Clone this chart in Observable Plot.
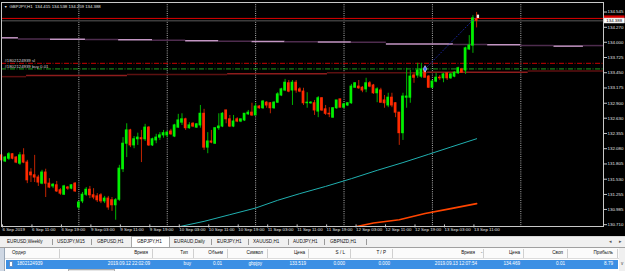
<!DOCTYPE html>
<html><head><meta charset="utf-8">
<script src="https://cdn.jsdelivr.net/npm/d3@7"></script>
<script src="https://cdn.jsdelivr.net/npm/@observablehq/plot@0.6"></script>
<style>
body{margin:0;width:625px;height:271px;overflow:hidden;background:#fff;font-family:"Liberation Sans",Arial,sans-serif;position:relative;}
#chart{position:absolute;left:0;top:0;width:625px;height:237px;background:#000;}
.a{position:absolute;white-space:nowrap;line-height:1;}
#tabs{position:absolute;left:0;top:236px;width:625px;height:11px;background:#f0f0f0;border-top:1px solid #d8d8d8;box-sizing:border-box;}
#grid{position:absolute;left:0;top:247px;width:625px;height:24px;background:#fff;border-top:1px solid #a0a0a0;box-sizing:border-box;}
</style></head><body>
<div id="chart"></div>
<div id="tabs"></div>
<div id="grid"></div>
<script>
// ---- data: GBPJPY H1 candles (bar index 0 = 6 Sep 2019 03:00) ----
const O = [
131.96,131.85,131.90,131.98,131.92,131.81,131.96,131.83,131.65,131.60,
131.56,131.45,131.65,131.45,131.40,131.42,131.33,131.25,131.38,131.36,
131.45,131.02,131.13,131.25,131.34,131.24,131.22,131.24,131.13,131.18,
131.15,131.06,131.16,131.71,132.17,132.41,132.14,132.25,132.27,132.25,
132.46,132.14,132.23,132.28,132.32,132.32,132.39,132.30,132.46,132.55,
132.61,132.45,132.53,132.46,132.50,132.71,132.10,132.21,132.17,132.45,
132.48,132.77,132.61,132.48,132.61,132.57,132.59,132.70,132.73,132.68,
132.84,132.81,132.91,132.90,132.81,132.91,133.04,133.13,133.26,133.13,
133.27,133.15,133.11,132.90,132.90,132.90,132.75,132.99,132.79,132.71,
132.64,132.81,132.97,132.82,132.86,132.90,133.18,133.20,133.18,133.15,
133.26,133.22,133.08,133.13,132.95,132.86,133.00,132.90,132.73,132.36,
133.00,133.00,133.40,133.40,133.38,133.49,133.38,133.18,133.29,133.36,
133.35,133.44,133.35,133.38,133.44,133.51,133.49,133.87,133.94,134.415];
const Hi = [
131.98,131.94,132.01,131.99,131.94,132.01,132.08,131.87,131.72,131.96,
131.60,131.69,131.71,131.54,131.45,131.49,131.36,131.42,131.40,131.43,
131.47,131.13,131.29,131.38,131.40,131.36,131.27,131.27,131.22,131.22,
131.20,131.18,131.78,132.28,132.53,132.43,132.30,132.36,132.41,132.52,
132.48,132.27,132.34,132.37,132.41,132.39,132.43,132.52,132.70,132.71,
132.63,132.55,132.55,132.53,132.86,132.79,132.37,132.41,132.45,132.71,
132.73,132.77,132.68,132.68,132.64,132.61,132.71,132.77,132.90,132.90,
132.86,132.95,132.93,132.91,132.93,133.09,133.17,133.33,133.31,133.31,
133.31,133.18,133.17,133.09,132.93,132.95,133.02,133.00,132.86,132.82,
132.82,132.95,132.97,132.90,132.91,133.24,133.27,133.31,133.20,133.35,
133.29,133.24,133.18,133.17,133.04,133.08,133.08,132.91,132.73,133.08,
133.53,133.49,133.45,133.62,133.62,133.53,133.40,133.31,133.44,133.40,
133.44,133.45,133.44,133.47,133.55,133.53,133.91,134.12,134.48,134.538];
const Lo = [
131.80,131.83,131.87,131.88,131.81,131.78,131.81,131.45,131.47,131.47,
131.40,131.43,131.20,131.36,131.36,131.29,131.24,131.24,131.33,131.34,
131.29,130.98,131.09,131.22,131.18,131.16,131.11,131.09,131.09,130.97,
130.95,130.79,131.13,131.65,131.92,132.10,132.08,132.14,131.83,132.21,
132.12,132.12,132.17,132.23,132.27,132.28,132.32,132.28,132.45,132.50,
132.41,132.43,132.46,132.45,132.45,132.05,131.99,132.17,132.16,132.41,
132.46,132.53,132.46,132.46,132.55,132.55,132.57,132.68,132.66,132.68,
132.79,132.79,132.81,132.71,132.79,132.90,133.02,133.11,133.09,132.86,
133.08,133.09,132.86,132.81,132.88,132.68,132.64,132.75,132.68,132.64,
132.63,132.79,132.82,132.81,132.84,132.88,133.17,133.15,133.09,133.09,
133.18,133.06,132.91,132.90,132.81,132.82,132.82,132.64,132.14,132.23,
132.81,132.90,133.26,133.35,133.35,133.36,133.17,133.17,133.27,133.31,
133.27,133.31,133.33,133.36,133.42,133.45,133.42,133.85,133.80,134.259];
const Cl = [
131.87,131.92,131.98,131.90,131.83,131.96,131.83,131.51,131.60,131.56,
131.47,131.65,131.45,131.38,131.43,131.31,131.27,131.40,131.36,131.42,
131.31,131.11,131.25,131.34,131.24,131.20,131.15,131.13,131.18,131.02,
131.06,131.15,131.72,132.17,132.41,132.14,132.25,132.28,132.25,132.46,
132.14,132.25,132.28,132.32,132.36,132.37,132.34,132.50,132.59,132.61,
132.45,132.50,132.48,132.52,132.71,132.10,132.21,132.19,132.45,132.48,
132.71,132.61,132.48,132.57,132.57,132.61,132.71,132.73,132.68,132.84,
132.81,132.93,132.86,132.81,132.91,133.06,133.15,133.27,133.11,133.27,
133.13,133.11,132.90,132.91,132.91,132.77,132.99,132.77,132.71,132.70,
132.81,132.95,132.82,132.88,132.90,133.20,133.26,133.17,133.13,133.26,
133.20,133.08,133.15,132.91,132.90,133.00,132.86,132.73,132.36,133.02,
133.02,133.38,133.36,133.49,133.51,133.36,133.18,133.29,133.36,133.35,
133.42,133.35,133.42,133.45,133.53,133.45,133.89,133.94,134.43,134.388];

const xLabels = ["6 Sep 2019","6 Sep 11:00","6 Sep 19:00","9 Sep 03:00","9 Sep 11:00","9 Sep 19:00",
  "10 Sep 03:00","10 Sep 11:00","10 Sep 19:00","11 Sep 03:00","11 Sep 11:00","11 Sep 19:00",
  "12 Sep 03:00","12 Sep 11:00","12 Sep 19:00","13 Sep 03:00","13 Sep 11:00"];
const xLabelBars = [0,8,16,24,32,40,48,56,64,72,80,88,96,104,112,120,128];
const daySepBars = [21,45,69,93,117,141];
const priceTicks = [134.545,134.270,134.000,133.725,133.450,133.175,132.900,132.630,132.355,132.080,131.805,131.530,131.255,130.985,130.710];

// stepped higher-timeframe averages
const lavFrom  = [-1,4.6,13.3,22.8,31.8,41,50,59,68,77,86,95,104.5,122.7,132,141,150,158];
const lavValue = [134.08,134.06,134.055,134.05,134.044,134.037,134.026,134.02,134.015,134.01,134.005,134.0,133.97,133.96,133.954,133.94,133.93,133.94];
const lavShade = [0,1,0,1,0,1,0,1,0,1,0,1,0,1,0,1,0,1];
const redFrom  = [-1,6.8,34.2,61.4,88.5,115.7,143];
const redValue = [133.38,133.40,133.42,133.43,133.45,133.46,133.48];
const redShade = [1,0,1,0,1,0,1];

// moving averages
const cyanBars = [46,48,55,62,69,75,81,88,95,102,109,116,122,129];
const cyanVals = [130.62,130.67,130.77,130.89,131.01,131.15,131.27,131.40,131.54,131.69,131.83,131.98,132.11,132.26];
const orangeBars = [94,96,101,108,115,122,129];
const orangeVals = [130.63,130.67,130.74,130.80,130.91,131.00,131.09];

// order / price lines
const bidPrice = 134.388, askPrice = 134.43;
const orderLineTexts = ["#1802124939 sl","#1802124939 buy 0.01"];
const orderLinePrices = [133.62, 133.519];
const tradeOpen = {bar:115, price:133.519};
const tradeClose = {bar:129, price:134.469};
const titleText = "GBPJPY,H1  134.415 134.538 134.259 134.388";

// bottom terminal
const tabNames = ["EURUSD,Weekly","USDJPY,M15","GBPUSD,H1","GBPJPY,H1","EURAUD,Daily","EURJPY,H1","XAUUSD,H1","AUDJPY,H1","GBPNZD,H1"];
const colHeads = ["Ордер","Время","Тип","Объем","Символ","Цена","S / L","T / P","Время","Цена","Своп","Прибыль"];
const rowVals  = ["1802124939","2019.09.12 22:02:09","buy","0.01","gbpjpy","133.519","0.000","0.000","2019.09.13 12:07:54","134.469","0.01","8.79"];

// ---- build ----
const bars = O.map((o,i)=>({i, o, h:Hi[i], l:Lo[i], c:Cl[i]}));
const nextOr = (arr,k,end)=> k+1<arr.length ? arr[k+1] : end;
const lavSegs = lavFrom.map((a,k)=>({a, b:nextOr(lavFrom,k,164), v:lavValue[k], s:lavShade[k]}));
const redSegs = redFrom.map((a,k)=>({a, b:nextOr(redFrom,k,164), v:redValue[k], s:redShade[k]}));
const cyan = cyanBars.map((b,k)=>({b, v:cyanVals[k]}));
const orange = orangeBars.map((b,k)=>({b, v:orangeVals[k]}));
const BULL="#00f000", BEAR="#ff2a00", BULLW="#00b400", BEARW="#c02400";
const AX0 = 163.7, AX1 = 169.3; // price-label column (beyond right edge of bars)

const chart = Plot.plot({
  width:625, height:237,
  marginLeft:1, marginRight:22, marginTop:2, marginBottom:11,
  style:{background:"#000", color:"#e6e6e6", fontFamily:"Liberation Sans, Arial, sans-serif", fontSize:"4.4px", overflow:"visible"},
  x:{domain:[0,163.45], axis:null},
  y:{domain:[130.677,134.717], axis:null},
  color:{type:"identity"},
  marks:[
    Plot.ruleX(daySepBars,{x:d=>d, stroke:"#b0b0b0", strokeDasharray:"1,1.2", strokeWidth:1}),
    Plot.ruleY(lavSegs,{y:"v", x1:"a", x2:"b", stroke:d=>d.s?"#4e2c4e":"#c496c4", strokeWidth:1.5, clip:true}),
    Plot.ruleY(redSegs,{y:"v", x1:"a", x2:"b", stroke:d=>d.s?"#5c1010":"#8e1c1c", strokeWidth:1.5, clip:true}),
    Plot.ruleY([orderLinePrices[0]],{stroke:"#c80000", strokeDasharray:"5,1.5,1,1.5", strokeWidth:1}),
    Plot.ruleY([orderLinePrices[1]],{stroke:"#1ea01e", strokeDasharray:"5,1.5,1,1.5", strokeWidth:1}),
    Plot.ruleY([bidPrice],{stroke:"#3c3c3c", strokeWidth:1.6}),
    Plot.ruleY([askPrice],{stroke:"#dc0000", strokeWidth:1}),
    Plot.text(orderLinePrices,{x:0.8, y:d=>d, text:(d,i)=>orderLineTexts[i], textAnchor:"start", dy:-2.6, fill:"#d8d8d8", fontSize:4.3}),
    Plot.line(cyan,{x:"b", y:"v", stroke:"#20b0b0", strokeWidth:1, clip:true}),
    Plot.line(orange,{x:"b", y:"v", stroke:"#ff4500", strokeWidth:1.6, clip:true}),
    Plot.ruleX(bars,{x:"i", y1:"l", y2:"h", stroke:d=>d.c>=d.o?BULLW:BEARW, strokeWidth:1}),
    Plot.rect(bars,{x1:d=>d.i-0.37, x2:d=>d.i+0.37, y1:"o", y2:"c", fill:d=>d.c>=d.o?BULL:BEAR, insetTop:-0.5, insetBottom:-0.5}),
    Plot.link([0],{x1:tradeOpen.bar, y1:tradeOpen.price, x2:tradeClose.bar, y2:tradeClose.price, stroke:"#2230d0", strokeDasharray:"1,1.5", strokeWidth:1}),
    Plot.dot([0],{x:tradeOpen.bar, y:tradeOpen.price, symbol:"diamond", r:2, fill:"#5070ff", stroke:"#ffffff", strokeWidth:0.5}),
    Plot.rect([0],{x1:tradeClose.bar+0.2, x2:tradeClose.bar+0.8, y1:tradeClose.price-0.04, y2:tradeClose.price+0.02, fill:"#f4f0e0"}),
    Plot.frame({stroke:"#c8c8c8", strokeWidth:1}),
    Plot.axisY(priceTicks,{anchor:"right", tickSize:3, tickPadding:1, tickFormat:d=>d.toFixed(3), fontSize:4.4, fill:"#e6e6e6", stroke:"#c8c8c8"}),
    Plot.axisX(xLabelBars,{anchor:"bottom", tickSize:3, tickPadding:0, dy:-1.6, dx:1, textAnchor:"start", tickFormat:d=>xLabels[xLabelBars.indexOf(d)], fontSize:4.4, fill:"#e6e6e6", stroke:"#c8c8c8"}),
    Plot.rect([0],{x1:AX0, x2:AX1, y1:askPrice-0.05, y2:askPrice+0.045, fill:"#dc0000"}),
    Plot.rect([0],{x1:AX0, x2:AX1, y1:bidPrice-0.05, y2:bidPrice+0.04, fill:"#ffffff", stroke:"#c8c8c8", strokeWidth:0.5}),
    Plot.text([bidPrice],{x:AX0+0.5, y:d=>d, text:d=>d.toFixed(3), textAnchor:"start", fill:"#000", fontSize:4.4}),
    Plot.text([titleText],{frameAnchor:"top-left", dx:8, dy:2.5, lineAnchor:"top", text:d=>d, fill:"#e6e6e6", fontSize:4.3}),
    Plot.text(["▼"],{frameAnchor:"top-left", dx:2.5, dy:2.8, lineAnchor:"top", text:d=>d, fill:"#e6e6e6", fontSize:3.5})
  ]
});
document.getElementById("chart").appendChild(chart);

// ---- terminal (tabs + trade table) ----
const F = "4.6px";
function put(parent, txt, left, top, opts={}){
  const d=document.createElement("div"); d.className="a"; d.textContent=txt;
  d.style.left=left+"px"; d.style.top=top+"px"; d.style.fontSize=opts.size||F;
  if(opts.color) d.style.color=opts.color;
  if(opts.bold) d.style.fontWeight="bold";
  if(opts.right){ d.style.left="auto"; d.style.right=(625-left)+"px"; }
  parent.appendChild(d); return d;
}
function box(parent, l,t,w,h,css){const d=document.createElement("div");d.className="a";Object.assign(d.style,{left:l+"px",top:t+"px",width:w+"px",height:h+"px"},css);parent.appendChild(d);return d;}

const tabs=document.getElementById("tabs");
const tabLeft=[7,57,97,137,174,217,253,293,330];
const tabSeps=[52,91,211,248,288,324,366];
box(tabs,131,-1,39,11,{background:"#fff",border:"1px solid #a8a8a8",borderBottom:"none",boxSizing:"border-box"});
tabNames.forEach((t,k)=>put(tabs,t,tabLeft[k],2.6,{color:"#111"}));
tabSeps.forEach(x=>box(tabs,x,2,1,6,{background:"#9a9a9a"}));
put(tabs,"◂",609,2,{color:"#555",size:"5px"}); put(tabs,"▸",619,2,{color:"#555",size:"5px"});

const grid=document.getElementById("grid");
box(grid,0,0,5,24,{background:"#cfd8e4",borderRight:"1px solid #9aa8b8",boxSizing:"border-box"});
box(grid,5,0,614,11,{background:"#fbfbfb",borderBottom:"1px solid #dcdcdc",boxSizing:"border-box"});
const colRight=[null,148,188,223,263,305,345,386,475,520,563,613];
const valRight=[null,150,191,222,262,306,345,390,477,520,565,613];
const colSeps=[59,152,193,227,267,308,350,392,483,523,567,617];
colSeps.forEach(x=>box(grid,x,1,1,9,{background:"#d0d0d0"}));
colHeads.forEach((h,k)=>{ if(k===0) put(grid,h,12,3.4,{color:"#111"}); else put(grid,h,colRight[k],3.4,{color:"#111",right:true}); });
put(grid,"⌄",480,2,{color:"#777",size:"4px"});
box(grid,6,11.5,612,9,{background:"#3b8fe4"});
box(grid,9,13,4,6,{background:"#ffffff",border:"0.5px solid #6a8fc0",boxSizing:"border-box"});
rowVals.forEach((v,k)=>{ if(k===0) put(grid,v,17,13.6,{color:"#fff"}); else put(grid,v,valRight[k],13.6,{color:"#fff",right:true}); });
box(grid,619,0,6,24,{background:"#f0f0f0"});
put(grid,"v",621,14,{color:"#444",size:"4.5px"});
box(grid,68,21,47,3,{background:"#e6e6e6",border:"0.5px solid #b0b0b0",boxSizing:"border-box"});
</script>
</body></html>
